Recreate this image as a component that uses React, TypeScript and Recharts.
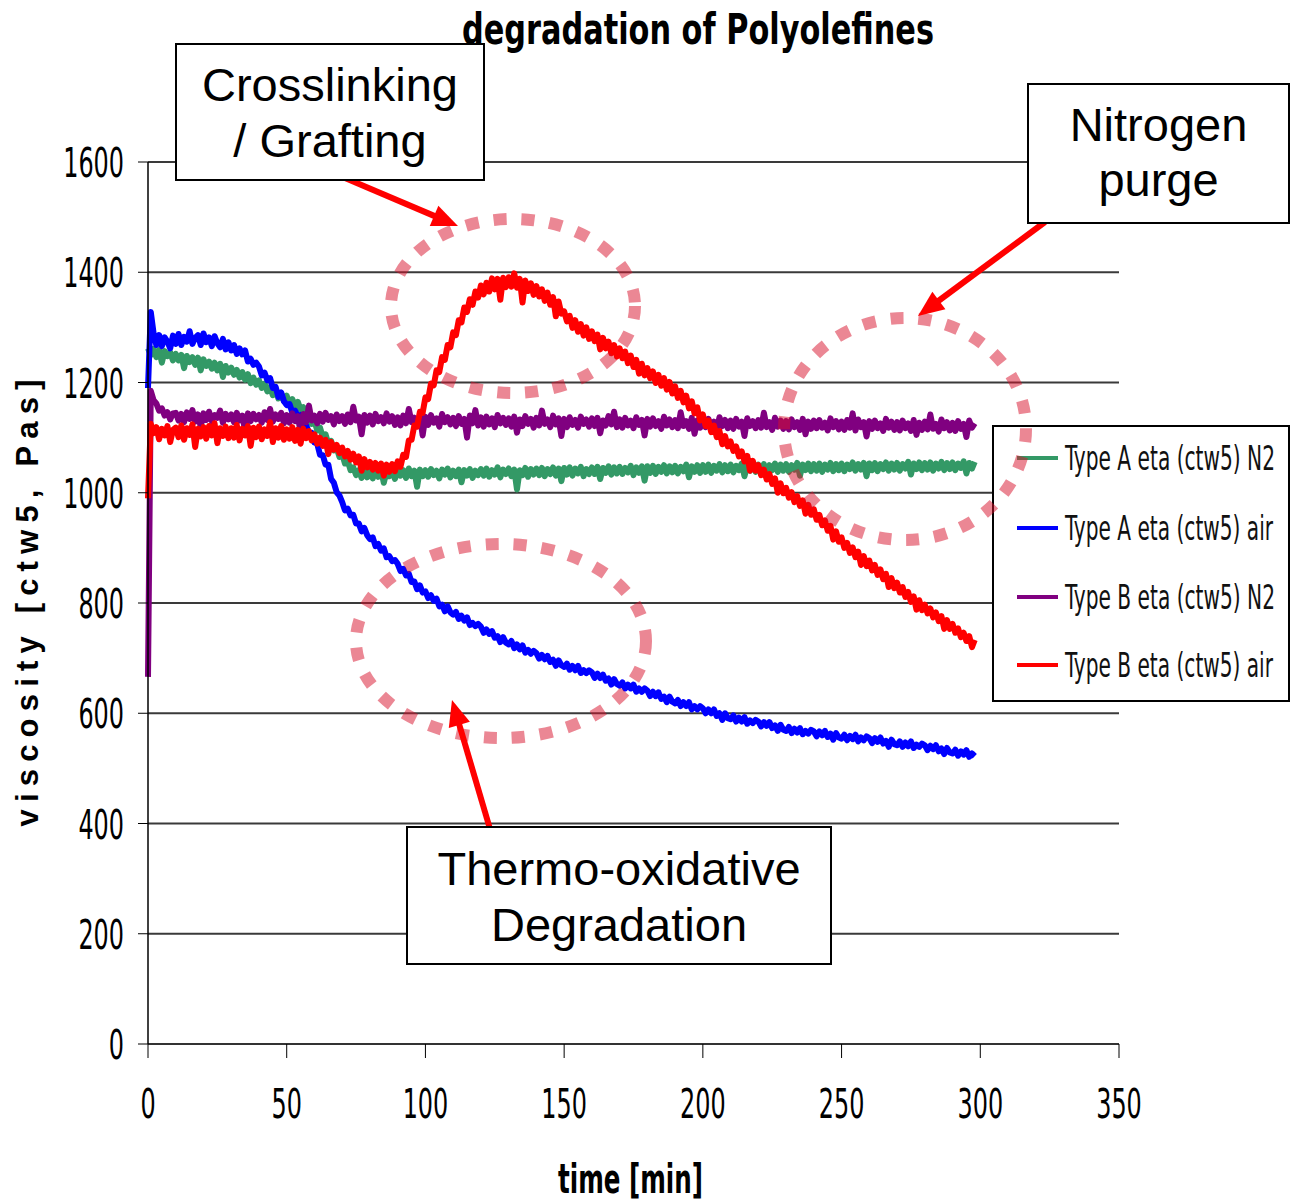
import React from 'react';
import { LineChart, Line, XAxis, YAxis, CartesianGrid, Label } from 'recharts';

// ---- data (viscosity in Pas, one reading per minute from t = 0) ----
const timeStartMin = 0;
const sampleStepMin = 1;

const typeAN2 = [
  1262, 1250, 1261, 1246, 1259, 1236, 1257, 1248, 1255, 1240,
  1252, 1240, 1250, 1226, 1248, 1237, 1246, 1232, 1245, 1222,
  1242, 1230, 1238, 1225, 1236, 1222, 1234, 1210, 1230, 1218,
  1227, 1214, 1223, 1209, 1219, 1205, 1215, 1199, 1209, 1196,
  1204, 1190, 1198, 1184, 1192, 1177, 1187, 1171, 1180, 1166,
  1176, 1162, 1170, 1156, 1165, 1150, 1155, 1138, 1143, 1125,
  1130, 1113, 1118, 1101, 1106, 1089, 1094, 1077, 1082, 1065,
  1070, 1053, 1058, 1041, 1046, 1032, 1041, 1027, 1040, 1028,
  1041, 1026, 1040, 1029, 1042, 1018, 1039, 1030, 1043, 1025,
  1042, 1031, 1041, 1027, 1044, 1030, 1040, 1011, 1042, 1030,
  1041, 1029, 1043, 1032, 1040, 1026, 1042, 1033, 1044, 1028,
  1040, 1030, 1042, 1019, 1041, 1031, 1043, 1027, 1040, 1032,
  1043, 1031, 1044, 1029, 1041, 1033, 1046, 1028, 1042, 1034,
  1044, 1030, 1042, 1006, 1041, 1032, 1045, 1029, 1043, 1033,
  1044, 1032, 1045, 1030, 1043, 1034, 1046, 1031, 1044, 1021,
  1045, 1033, 1046, 1031, 1044, 1035, 1047, 1030, 1043, 1034,
  1046, 1034, 1047, 1025, 1045, 1036, 1048, 1033, 1046, 1035,
  1047, 1034, 1045, 1037, 1049, 1032, 1046, 1036, 1048, 1022,
  1048, 1036, 1049, 1034, 1047, 1038, 1050, 1035, 1048, 1037,
  1049, 1035, 1047, 1039, 1051, 1028, 1048, 1038, 1050, 1036,
  1050, 1038, 1051, 1036, 1049, 1040, 1052, 1037, 1050, 1039,
  1051, 1037, 1049, 1041, 1053, 1030, 1050, 1040, 1052, 1038,
  1051, 1039, 1052, 1037, 1050, 1041, 1053, 1038, 1051, 1040,
  1052, 1038, 1050, 1042, 1054, 1031, 1051, 1041, 1053, 1039,
  1052, 1040, 1053, 1038, 1051, 1042, 1054, 1039, 1052, 1041,
  1053, 1039, 1051, 1043, 1055, 1040, 1052, 1042, 1054, 1030,
  1053, 1041, 1054, 1039, 1052, 1043, 1055, 1040, 1053, 1042,
  1054, 1040, 1052, 1044, 1056, 1033, 1053, 1043, 1055, 1041,
  1054, 1042, 1055, 1040, 1053, 1044, 1056, 1041, 1054, 1043,
  1055, 1041, 1053, 1045, 1057, 1035, 1054, 1044, 1056,
];

const typeAAir = [
  1190, 1328, 1290, 1268, 1286, 1266, 1282, 1274, 1262, 1285,
  1270, 1288, 1268, 1283, 1274, 1293, 1270, 1281, 1286, 1268,
  1289, 1273, 1282, 1266, 1284, 1271, 1264, 1279, 1260, 1273,
  1258, 1268, 1252, 1262, 1251, 1258, 1238, 1243, 1232, 1236,
  1229, 1213, 1218, 1204, 1208, 1190, 1192, 1174, 1182, 1166,
  1159, 1161, 1146, 1149, 1138, 1141, 1125, 1122, 1110, 1109,
  1091, 1089, 1069, 1068, 1051, 1051, 1025, 1018, 1001, 995,
  983, 968, 971, 959, 960, 944, 944, 930, 936, 923,
  916, 919, 903, 907, 895, 899, 883, 885, 876, 878,
  871, 858, 862, 850, 853, 838, 839, 825, 832, 819,
  821, 809, 814, 804, 808, 794, 797, 785, 794, 783,
  779, 784, 771, 777, 768, 774, 760, 764, 758, 762,
  757, 746, 752, 744, 749, 737, 740, 729, 738, 728,
  725, 731, 718, 725, 716, 723, 710, 715, 708, 713,
  709, 699, 706, 698, 704, 693, 697, 686, 696, 687,
  684, 690, 679, 686, 678, 686, 673, 678, 673, 678,
  674, 664, 672, 664, 670, 659, 663, 652, 662, 653,
  650, 656, 645, 652, 645, 652, 639, 645, 639, 645,
  641, 631, 639, 631, 638, 626, 630, 620, 630, 621,
  618, 624, 613, 620, 613, 620, 607, 613, 607, 613,
  609, 600, 607, 600, 607, 595, 600, 588, 600, 591,
  589, 596, 585, 592, 585, 593, 581, 587, 582, 588,
  585, 576, 584, 577, 584, 573, 578, 568, 579, 570,
  568, 575, 564, 572, 565, 573, 562, 568, 563, 570,
  567, 558, 567, 560, 568, 557, 563, 552, 564, 556,
  554, 561, 551, 559, 553, 561, 549, 556, 551, 558,
  555, 546, 555, 548, 556, 545, 550, 539, 552, 544,
  542, 549, 539, 547, 540, 549, 537, 543, 539, 545,
  542, 533, 541, 535, 542, 531, 536, 526, 537, 529,
  527, 534, 523, 531, 525, 533, 521, 527, 522,
];

const typeBN2 = [
  666, 1185, 1168, 1162, 1149, 1153, 1140, 1146, 1133, 1144,
  1145, 1131, 1143, 1128, 1146, 1134, 1150, 1129, 1142, 1120,
  1144, 1132, 1147, 1130, 1141, 1136, 1149, 1127, 1143, 1133,
  1142, 1128, 1145, 1131, 1140, 1112, 1144, 1130, 1143, 1133,
  1141, 1127, 1146, 1132, 1152, 1129, 1142, 1134, 1145, 1126,
  1141, 1127, 1144, 1130, 1139, 1110, 1143, 1128, 1158, 1131,
  1140, 1126, 1143, 1129, 1145, 1132, 1139, 1124, 1142, 1130,
  1139, 1125, 1142, 1128, 1156, 1131, 1138, 1106, 1141, 1127,
  1140, 1124, 1143, 1130, 1137, 1126, 1144, 1129, 1139, 1123,
  1137, 1122, 1140, 1126, 1152, 1128, 1136, 1121, 1139, 1104,
  1138, 1123, 1141, 1127, 1135, 1120, 1143, 1128, 1137, 1124,
  1136, 1121, 1139, 1125, 1134, 1100, 1140, 1126, 1150, 1122,
  1137, 1120, 1138, 1124, 1135, 1119, 1141, 1126, 1136, 1123,
  1135, 1120, 1138, 1109, 1133, 1121, 1139, 1125, 1134, 1118,
  1136, 1122, 1149, 1125, 1133, 1119, 1140, 1124, 1135, 1103,
  1134, 1119, 1137, 1123, 1132, 1118, 1138, 1125, 1133, 1120,
  1135, 1121, 1136, 1108, 1131, 1122, 1139, 1124, 1147, 1119,
  1133, 1118, 1136, 1122, 1131, 1117, 1137, 1123, 1132, 1104,
  1134, 1120, 1135, 1121, 1130, 1116, 1138, 1122, 1133, 1119,
  1132, 1117, 1146, 1121, 1130, 1116, 1136, 1107, 1131, 1118,
  1133, 1119, 1134, 1120, 1129, 1115, 1137, 1121, 1132, 1117,
  1131, 1116, 1134, 1120, 1129, 1103, 1135, 1121, 1130, 1117,
  1132, 1118, 1145, 1119, 1128, 1114, 1136, 1120, 1131, 1116,
  1130, 1115, 1133, 1119, 1128, 1114, 1134, 1106, 1129, 1116,
  1131, 1117, 1132, 1118, 1127, 1113, 1135, 1119, 1130, 1115,
  1129, 1114, 1132, 1118, 1144, 1113, 1133, 1119, 1128, 1102,
  1130, 1116, 1131, 1117, 1126, 1112, 1134, 1118, 1129, 1114,
  1128, 1113, 1131, 1117, 1126, 1112, 1132, 1105, 1127, 1114,
  1129, 1115, 1142, 1116, 1125, 1111, 1133, 1117, 1128, 1113,
  1127, 1112, 1130, 1116, 1125, 1101, 1131, 1118, 1126,
];

const typeBAir = [
  990, 1125, 1108, 1119, 1097, 1116, 1104, 1121, 1092, 1114,
  1118, 1101, 1122, 1096, 1117, 1105, 1124, 1083, 1116, 1102,
  1119, 1098, 1121, 1104, 1126, 1090, 1117, 1103, 1120, 1099,
  1117, 1100, 1123, 1095, 1116, 1104, 1121, 1085, 1118, 1101,
  1120, 1097, 1115, 1103, 1128, 1092, 1117, 1100, 1121, 1096,
  1115, 1098, 1119, 1094, 1114, 1089, 1116, 1099, 1112, 1095,
  1106, 1089, 1100, 1085, 1096, 1070, 1092, 1078, 1087, 1072,
  1082, 1066, 1076, 1060, 1071, 1055, 1066, 1040, 1061, 1046,
  1056, 1042, 1054, 1040, 1053, 1031, 1051, 1038, 1052, 1039,
  1057, 1047, 1069, 1065, 1095, 1096, 1122, 1120, 1147, 1145,
  1173, 1170, 1198, 1195, 1222, 1219, 1246, 1241, 1268, 1264,
  1291, 1286, 1313, 1309, 1336, 1328, 1351, 1341, 1365, 1354,
  1376, 1360, 1381, 1365, 1389, 1369, 1388, 1350, 1390, 1373,
  1391, 1374, 1398, 1372, 1388, 1345, 1385, 1366, 1380, 1359,
  1375, 1356, 1369, 1348, 1363, 1341, 1355, 1320, 1347, 1325,
  1329, 1311, 1321, 1299, 1313, 1292, 1306, 1285, 1300, 1279,
  1293, 1275, 1287, 1260, 1281, 1262, 1274, 1253, 1268, 1247,
  1262, 1244, 1256, 1235, 1249, 1228, 1241, 1216, 1234, 1213,
  1226, 1208, 1220, 1199, 1214, 1194, 1208, 1187, 1201, 1180,
  1193, 1172, 1185, 1164, 1176, 1153, 1166, 1144, 1155, 1131,
  1142, 1121, 1131, 1110, 1122, 1101, 1112, 1088, 1103, 1084,
  1093, 1076, 1084, 1066, 1075, 1057, 1067, 1040, 1058, 1040,
  1050, 1032, 1042, 1024, 1034, 1016, 1026, 1000, 1017, 999,
  1009, 991, 1001, 983, 994, 976, 986, 962, 978, 960,
  970, 951, 960, 941, 950, 931, 940, 915, 930, 911,
  919, 900, 909, 891, 901, 883, 893, 869, 885, 867,
  877, 859, 869, 851, 861, 843, 853, 829, 845, 827,
  837, 819, 829, 811, 820, 802, 812, 788, 805, 787,
  797, 781, 790, 774, 783, 767, 776, 753, 769, 753,
  762, 746, 754, 738, 746, 731, 740, 720, 733,
];

const xTicks = [0, 50, 100, 150, 200, 250, 300, 350];
const yTicks = [0, 200, 400, 600, 800, 1000, 1200, 1400, 1600];

const seriesKeys = ['aN2', 'aAir', 'bN2', 'bAir'];
const seriesNames = [
  'Type A eta (ctw5) N2',
  'Type A eta (ctw5) air',
  'Type B eta (ctw5) N2',
  'Type B eta (ctw5) air',
];
const seriesColors = ['#339966', '#0000ff', '#800080', '#ff0000'];

const chartTitle = 'degradation of Polyolefines';
const xTitle = 'time [min]';
const yTitle = 'viscosity [ctw5, Pas]';

const data = typeAN2.map((v, i) => ({
  t: timeStartMin + i * sampleStepMin,
  aN2: v,
  aAir: typeAAir[i],
  bN2: typeBN2[i],
  bAir: typeBAir[i],
}));

// ---- styling ----
const W = 1291;
const H = 1202;
const SANS = "'Liberation Sans', Arial, Helvetica, sans-serif";
const NARROW = "'Liberation Sans Narrow', 'Arial Narrow', 'DejaVu Sans Condensed', sans-serif";
const DIGIT_W = 15.2;

const YTick = (props: any) => {
  const { x, y, payload } = props;
  const s = String(payload.value);
  return (
    <text x={x} y={y} dy={15} textAnchor="end" fontFamily={NARROW} fontSize={40}
      textLength={s.length * DIGIT_W} lengthAdjust="spacingAndGlyphs" fill="#000">{s}</text>
  );
};

const XTick = (props: any) => {
  const { x, y, payload } = props;
  const s = String(payload.value);
  return (
    <text x={x} y={y} dy={30} textAnchor="middle" fontFamily={NARROW} fontSize={40}
      textLength={s.length * DIGIT_W} lengthAdjust="spacingAndGlyphs" fill="#000">{s}</text>
  );
};

const YTitle = (props: any) => {
  const vb = props.viewBox || { x: 48, y: 162, width: 100, height: 882 };
  const cx = vb.x - 10;
  const cy = vb.y + vb.height / 2;
  return (
    <text x={cx} y={cy} transform={`rotate(-90 ${cx} ${cy})`} textAnchor="middle"
      fontFamily={SANS} fontWeight="bold" fontSize={31} textLength={447} lengthAdjust="spacing" fill="#000">
      {yTitle}
    </text>
  );
};

const XTitle = (props: any) => {
  const vb = props.viewBox || { x: 148, y: 1044, width: 971, height: 60 };
  const cx = vb.x + vb.width / 2 - 3;
  const cy = vb.y + 149;
  return (
    <text x={cx} y={cy} textAnchor="middle" fontFamily={NARROW} fontWeight="bold" fontSize={40}
      textLength={145} lengthAdjust="spacingAndGlyphs" fill="#000">{xTitle}</text>
  );
};

function Arrow({ x1, y1, x2, y2 }: { x1: number; y1: number; x2: number; y2: number }) {
  const dx = x2 - x1;
  const dy = y2 - y1;
  const len = Math.hypot(dx, dy);
  const ux = dx / len;
  const uy = dy / len;
  const head = 26;
  const half = 11;
  const bx = x2 - ux * head;
  const by = y2 - uy * head;
  const px = -uy;
  const py = ux;
  return (
    <g>
      <line x1={x1} y1={y1} x2={bx + ux * 2} y2={by + uy * 2} stroke="#ff0000" strokeWidth={6} />
      <polygon points={`${x2},${y2} ${bx + px * half},${by + py * half} ${bx - px * half},${by - py * half}`} fill="#ff0000" />
    </g>
  );
}

function Callout({ x, y, w, h, lines, baselines }: { x: number; y: number; w: number; h: number; lines: string[]; baselines: number[] }) {
  const cx = x + w / 2;
  return (
    <g>
      <rect x={x} y={y} width={w} height={h} fill="#fff" stroke="#000" strokeWidth={2} />
      {lines.map((l, i) => (
        <text key={i} x={cx} y={baselines[i]} textAnchor="middle" fontFamily={SANS} fontSize={47} fill="#000">{l}</text>
      ))}
    </g>
  );
}

const ringStyle = {
  fill: 'none',
  stroke: '#d8102a',
  strokeOpacity: 0.5,
  strokeWidth: 12,
  strokeDasharray: '13 15',
};

function Overlay() {
  const legendTop = 426;
  const rowY = [458, 528, 597, 665];
  const textLens = [210, 208, 210, 208];
  return (
    <svg width={W} height={H} style={{ position: 'absolute', left: 0, top: 0, pointerEvents: 'none' }}>
      {/* legend */}
      <rect x={993} y={legendTop} width={296} height={275} fill="#fff" stroke="#000" strokeWidth={2} />
      {seriesNames.map((n, i) => (
        <g key={n}>
          <line x1={1017} x2={1058} y1={rowY[i]} y2={rowY[i]} stroke={seriesColors[i]} strokeWidth={4} />
          <text x={0} y={0} transform={`translate(1065 ${rowY[i] + 12}) scale(1 1.6)`}
            fontFamily={NARROW} fontSize={21} fill="#111"
            textLength={textLens[i]} lengthAdjust="spacingAndGlyphs">{n}</text>
        </g>
      ))}
      {/* dotted rings */}
      <ellipse cx={513} cy={306} rx={122} ry={87} {...ringStyle} />
      <ellipse cx={905} cy={429} rx={121} ry={111} {...ringStyle} />
      <ellipse cx={501} cy={641} rx={145} ry={97} {...ringStyle} />
      {/* arrows */}
      <Arrow x1={345} y1={178} x2={458} y2={226} />
      <Arrow x1={1045} y1={222} x2={918} y2={316} />
      <Arrow x1={490} y1={829} x2={452} y2={700} />
      {/* callouts */}
      <Callout x={176} y={44} w={308} h={136} lines={['Crosslinking', '/ Grafting']} baselines={[101, 157]} />
      <Callout x={1028} y={84} w={261} h={139} lines={['Nitrogen', 'purge']} baselines={[141, 196]} />
      <Callout x={407} y={827} w={424} h={137} lines={['Thermo-oxidative', 'Degradation']} baselines={[885, 941]} />
      {/* title */}
      <text x={462} y={44} fontFamily={NARROW} fontWeight="bold" fontSize={42} fill="#000"
        textLength={472} lengthAdjust="spacingAndGlyphs">{chartTitle}</text>
    </svg>
  );
}

export default function App() {
  return (
    <div style={{ position: 'absolute', left: 0, top: 0, width: W, height: H, background: '#fff' }}>
      <LineChart width={W} height={H} data={data} margin={{ top: 162, right: 172, bottom: 98, left: 48 }}>
        <CartesianGrid vertical={false} stroke="#3a3a3a" strokeWidth={2} />
        <XAxis dataKey="t" type="number" domain={[0, 350]} ticks={xTicks} interval={0} height={60}
          tickSize={14} tickMargin={30} tick={<XTick />} axisLine={{ stroke: '#333', strokeWidth: 2 }}
          tickLine={{ stroke: '#000', strokeWidth: 1 }}>
          <Label content={<XTitle />} />
        </XAxis>
        <YAxis type="number" domain={[0, 1600]} ticks={yTicks} interval={0} width={100}
          tickSize={10} tickMargin={14} tick={<YTick />} axisLine={{ stroke: '#000', strokeWidth: 1.5 }}
          tickLine={{ stroke: '#000', strokeWidth: 1 }}>
          <Label content={<YTitle />} />
        </YAxis>
        {seriesKeys.map((k, i) => (
          <Line key={k} type="linear" dataKey={k} name={seriesNames[i]} stroke={seriesColors[i]}
            strokeWidth={6} strokeLinejoin="round" dot={false} activeDot={false} isAnimationActive={false} />
        ))}
      </LineChart>
      <Overlay />
    </div>
  );
}
